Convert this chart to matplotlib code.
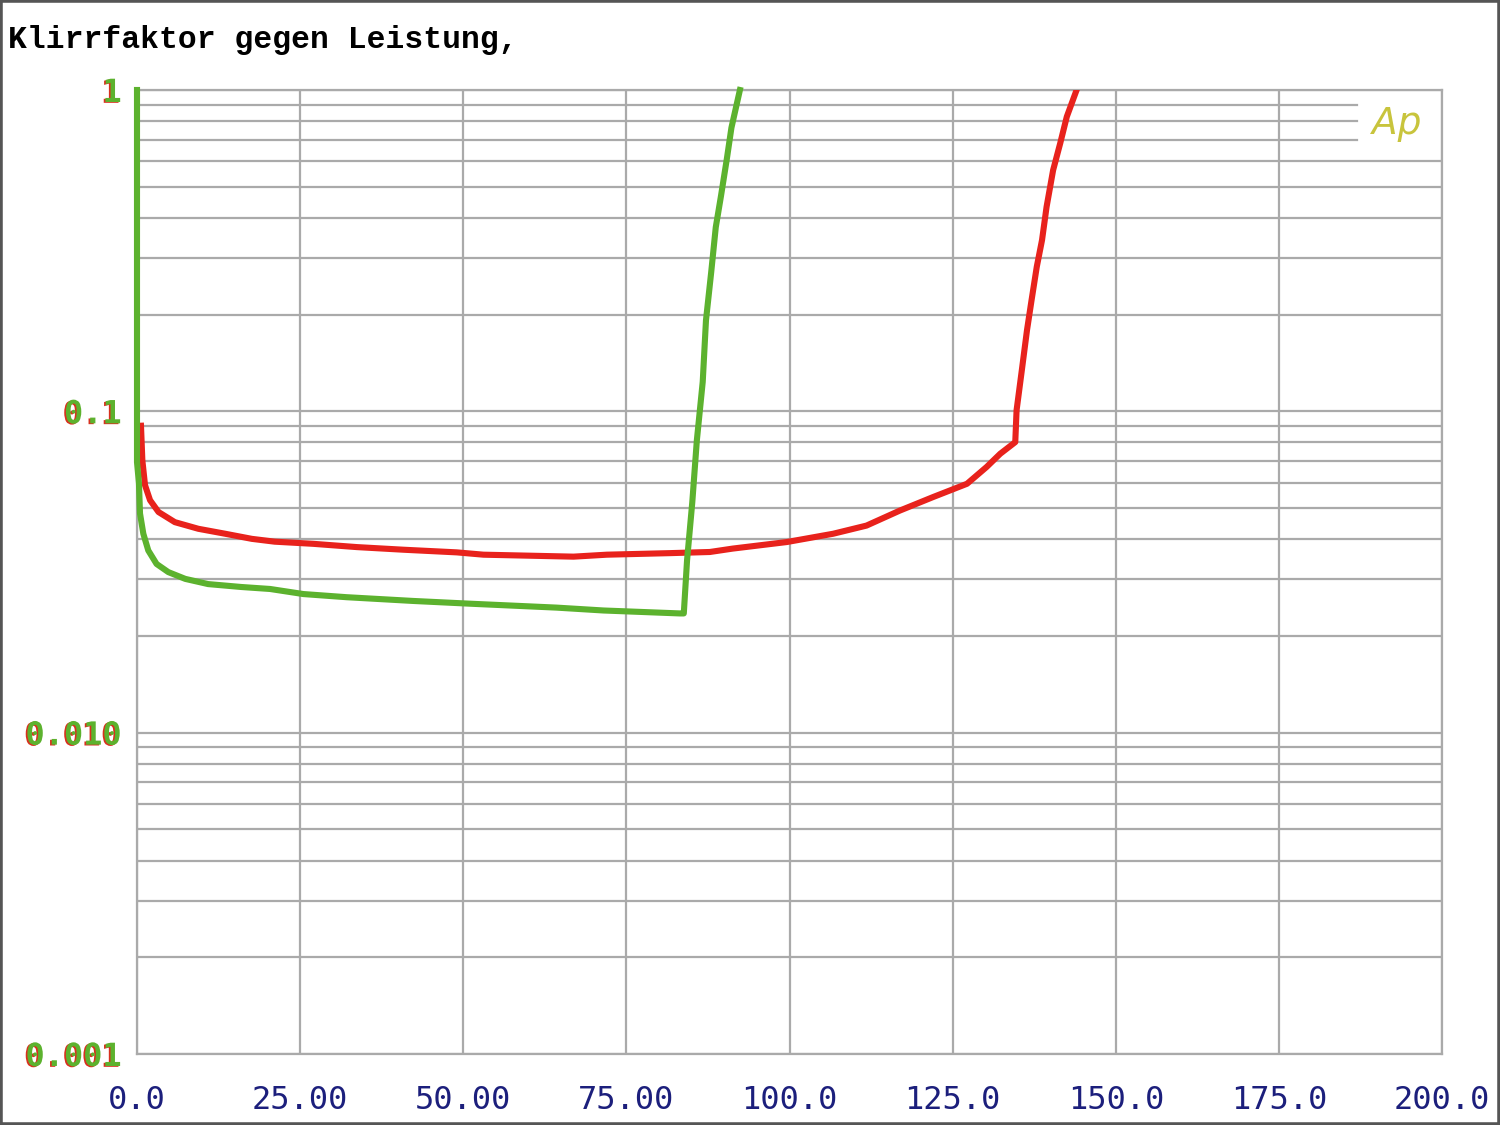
import matplotlib.pyplot as plt
import matplotlib.patheffects as pe
from matplotlib.patches import Rectangle

# === Données ===
green_x = [0, 0, 0.3, 0.46, 0.97, 1.73, 3.0, 4.8, 7.4, 10.9, 16.0, 20.4, 25.5, 32.1,
           42.3, 51.0, 64.3, 71.5, 83.2, 83.8, 84.3, 85.1, 85.8, 86.7, 87.2, 88.0,
           88.7, 89.5, 90.4, 91.1, 92.4]
green_y = [1.0, 0.0695, 0.0597, 0.0481, 0.0416, 0.0369, 0.0335, 0.0316, 0.0301, 0.0290,
           0.0284, 0.0280, 0.0270, 0.0264, 0.0257, 0.0252, 0.0245, 0.0240, 0.0235, 0.0235,
           0.0344, 0.0521, 0.0812, 0.1235, 0.192, 0.271, 0.374, 0.468, 0.611, 0.763, 1.0]

red_x = [0.61, 0.82, 1.23, 2.0, 3.3, 5.8, 9.4, 13.5, 17.6, 21.1, 27.0, 33.7, 40.8, 49.0,
         53.1, 66.9, 72.0, 81.7, 87.8, 91.3, 99.6, 106.7, 111.8, 116.9, 122.0, 127.2,
         130.2, 132.3, 134.6, 134.8, 135.6, 136.4, 137.1, 137.9, 138.7, 139.4, 140.4,
         141.5, 142.5, 144.0]
red_y = [0.0902, 0.0704, 0.0589, 0.0529, 0.0486, 0.0452, 0.0431, 0.0416, 0.0401, 0.0393,
         0.0387, 0.0378, 0.0371, 0.0364, 0.0358, 0.0353, 0.0358, 0.0362, 0.0365, 0.0374,
         0.0392, 0.0416, 0.0441, 0.0491, 0.0541, 0.0595, 0.0671, 0.0738, 0.0802, 0.1007,
         0.134, 0.179, 0.222, 0.282, 0.341, 0.433, 0.563, 0.684, 0.826, 1.0]

x_ticks = [0, 25, 50, 75, 100, 125, 150, 175, 200]
x_labels = ["0.0", "25.00", "50.00", "75.00", "100.0", "125.0", "150.0", "175.0", "200.0"]
y_ticks = [1, 0.1, 0.01, 0.001]
y_labels = ["1", "0.1", "0.010", "0.001"]

GRID = "#aaaaaa"

fig = plt.figure(figsize=(15, 11.25), dpi=100)
ax = fig.add_axes([137 / 1500, 71 / 1125, 1305 / 1500, 964 / 1125])
ax.set_yscale("log")
ax.set_xlim(0, 200)
ax.set_ylim(0.001, 1)

# === Grille ===
for x in x_ticks:
    ax.axvline(x, color=GRID, lw=1.6, zorder=1)
for dec in [0.001, 0.01, 0.1]:
    for m in range(1, 10):
        v = dec * m
        # les lignes 0.7-0.9 s'arrêtent avant le logo "Ap"
        xmax = 0.935 if m >= 7 and dec == 0.1 else 1.0
        ax.axhline(v, xmax=xmax, color=GRID, lw=1.6, zorder=1)
ax.axhline(1, color=GRID, lw=1.6, zorder=1)

# === Courbes ===
ax.plot(red_x, red_y, color="#e8221c", lw=4.4, zorder=3)
ax.plot(green_x, green_y, color="#5cb22e", lw=4.4, zorder=4, clip_on=False)

for s in ax.spines.values():
    s.set_color(GRID)
    s.set_linewidth(1.6)

ax.set_xticks(x_ticks)
ax.set_xticklabels(x_labels, family="DejaVu Sans Mono", fontsize=23, color="#1c1f7c")
ax.set_yticks(y_ticks)
ax.set_yticklabels(y_labels, family="DejaVu Sans Mono", fontsize=23, fontweight="bold",
                   color="#5cb22e")
ax.minorticks_off()
ax.tick_params(axis="x", length=0, pad=22)
ax.tick_params(axis="y", length=0, pad=11)
for lbl in ax.get_yticklabels():
    lbl.set_path_effects([pe.withSimplePatchShadow(offset=(-1.2, -0.6), shadow_rgbFace="#d8301e",
                                                   alpha=1.0)])

# === Titre et logo ===
fig.text(8 / 1500, 1 - 40 / 1125, "Klirrfaktor gegen Leistung,", family="Liberation Mono",
         fontweight="bold", fontsize=22.6, color="black", va="center", ha="left")
ax.text(0.965, 0.965, "Ap", transform=ax.transAxes, fontsize=27, style="italic",
        fontweight="light", color="#c8c43c", ha="center", va="center")

fig.patches.append(Rectangle((0, 0), 1, 1, transform=fig.transFigure, fill=False,
                             edgecolor="#555555", lw=4))

fig.savefig("out.png", dpi=100)
